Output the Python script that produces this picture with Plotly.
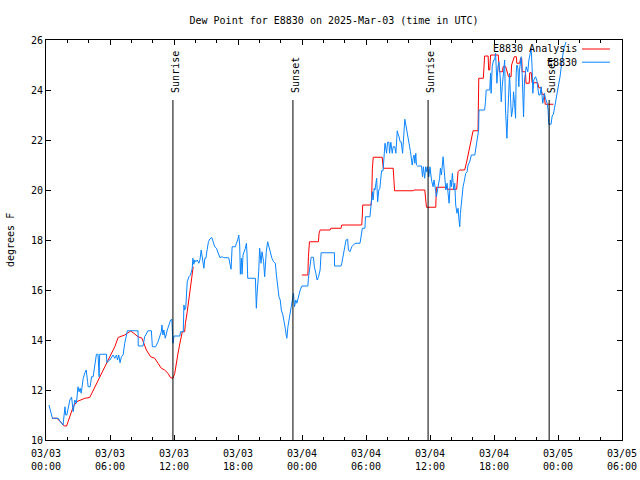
import pandas as pd
import plotly.graph_objects as go

BASE = pd.Timestamp("2025-03-03 00:00")

# Analysis (red): hours since 03/03 00:00 UTC, dew point (F); None = gap
analysis_hours = [0.59, 1.0, 1.3, 1.71, 1.93, 2.24, 2.55, 2.87, 3.34, 3.64, 4.1, 4.58, 5.05, 5.51,
                  5.98, 6.45, 6.76, 7.38, 7.94, 8.32, 8.63, 9.0, 9.41, 9.81, 10.19, 10.5, 10.81,
                  11.12, 11.43, 11.68, 11.9, 12.07, 12.2, 12.35, 12.52, 12.71, 12.78, 13.0, 13.07,
                  13.24, 13.4, 13.55, 13.71, 13.8, 18.0,
                  23.99, 24.55, 24.6, 24.7, 25.54, 25.6, 25.7, 26.64, 26.7, 27.66, 27.73, 29.6,
                  29.66, 29.69, 30.47, 30.53, 30.6, 30.68, 31.52, 31.62, 32.55, 32.63, 32.68,
                  34.42, 34.5, 35.51, 35.6, 35.67, 36.54, 36.6, 37.54, 37.6, 38.5, 38.63, 38.78,
                  39.25, 39.41, 39.57, 39.72, 39.88, 40.04, 40.5, 40.56, 40.57, 41.0, 41.12,
                  41.45, 41.5, 41.6, 41.68, 42.4, 42.5, 42.8, 42.85, 43.1, 43.2, 43.36, 43.6,
                  43.65, 43.9, 44.1, 44.14, 44.4, 44.5, 44.6, 44.64, 44.95, 45.0, 45.3, 45.35,
                  45.5, 45.57, 46.1, 46.2, 46.42, 46.5, 46.7, 46.8, 47.57]
analysis_vals = [10.87, 10.87, 10.76, 10.56, 10.56, 10.93, 11.33, 11.53, 11.6, 11.67, 11.7, 12.13,
                 12.53, 12.93, 13.33, 13.73, 14.1, 14.2, 14.36, 14.24, 14.13, 14.07, 13.6, 13.33,
                 13.27, 13.07, 12.87, 12.8, 12.67, 12.49, 12.47, 12.67, 13.07, 13.4, 13.8, 14.2,
                 14.33, 14.33, 14.67, 15.13, 15.67, 16.13, 16.53, 16.93, None,
                 16.6, 16.6, 17.33, 17.93, 17.93, 18.27, 18.4, 18.4, 18.47, 18.47, 18.6, 18.6,
                 19.0, 19.4, 19.4, 19.67, 20.87, 21.31, 21.31, 20.87, 20.87, 20.4, 19.97, 19.97,
                 20.0, 20.0, 19.67, 19.31, 19.31, 20.11, 20.11, 20.03, 20.03, 20.73, 20.8, 20.8,
                 21.07, 21.4, 21.73, 22.07, 22.37, 22.37, 23.47, 24.47, 24.47, 25.36, 25.36,
                 24.8, 24.8, 25.4, 25.4, 24.73, 24.73, 24.93, 24.93, 24.73, 24.53, 24.53, 25.0,
                 25.33, 25.33, 25.07, 25.07, 25.27, 25.27, 24.73, 24.73, 24.27, 24.27, 24.69,
                 24.69, 24.29, 24.29, 24.09, 24.09, 23.83, 23.83, 23.43, 23.43]

# Observations (blue)
obs_hours = [0.28, 0.6, 1.15, 1.3, 1.6, 1.78, 1.85, 1.95, 2.24, 2.4, 2.55, 2.7, 2.85, 3.0, 3.1,
             3.2, 3.3, 3.49, 3.64, 3.77, 3.9, 3.95, 4.14, 4.27, 4.42, 4.58, 4.73, 4.88, 4.98,
             5.03, 5.67, 5.7, 5.98, 6.29, 6.45, 6.61, 6.7, 6.82, 6.94, 7.07, 7.23, 7.38, 7.63,
             8.63, 8.65, 9.1, 9.25, 9.56, 9.88, 9.97, 10.28, 10.5, 10.65, 10.81, 10.87, 10.96,
             11.05, 11.18, 11.37, 11.5, 11.68, 11.8, 11.9, 12.0, 12.55, 12.6, 12.87, 12.93,
             13.0, 13.1, 13.18, 13.24, 13.4, 13.55, 13.71, 13.77, 13.86, 13.95, 14.04, 14.18,
             14.33, 14.43, 14.55, 14.65, 14.8, 14.89, 14.99, 15.1, 15.23, 15.36, 15.54, 15.67,
             15.82, 15.98, 16.14, 16.3, 16.51, 16.67, 17.13, 17.29, 17.35, 17.45, 17.76, 17.85,
             17.97, 18.07, 18.16, 18.22, 18.32, 18.38, 18.47, 18.69, 18.79, 18.85, 18.91,
             19.63, 19.65, 19.72, 19.78, 19.85, 19.94, 20.03, 20.16, 20.25, 20.4, 20.5, 20.56,
             20.65, 20.78, 20.9, 21.03, 21.18, 21.34, 21.5, 21.6, 21.71, 21.84, 21.96, 22.06,
             22.21, 22.34, 22.43, 22.52, 22.58, 22.68, 22.74, 22.86, 23.0, 23.1, 23.2, 23.3,
             23.42, 23.52, 23.67, 23.83, 23.99, 24.55, 24.6, 24.77, 24.86, 25.07, 25.16, 25.3,
             25.42, 25.55, 25.7, 25.79, 27.04, 27.05, 27.66, 27.73, 27.88, 27.97, 28.13, 28.28,
             28.35, 28.5, 28.66, 28.82, 28.97, 29.44, 29.53, 29.66, 29.9, 29.95, 30.37, 30.47,
             30.6, 30.66, 30.77, 30.84, 31.0, 31.09, 31.2, 31.3, 31.4, 31.46, 31.6, 31.71,
             31.78, 31.93, 32.02, 32.15, 32.21, 32.33, 32.46, 32.55, 32.7, 32.8, 32.86, 32.93,
             33.0, 33.1, 33.2, 33.3, 33.43, 33.5, 33.58, 33.64, 33.74, 33.83, 33.96, 34.05,
             34.17, 34.27, 34.33, 34.42, 34.51, 34.58, 34.67, 34.73, 34.83, 35.2, 35.3, 35.38,
             35.5, 35.6, 35.69, 35.76, 35.89, 36.0, 36.14, 36.29, 36.38, 36.54, 36.6, 36.76,
             36.9, 36.98, 37.07, 37.23, 37.33, 37.38, 37.48, 37.6, 37.69, 37.79, 37.91, 38.0,
             38.1, 38.22, 38.32, 38.41, 38.53, 38.63, 38.72, 38.79, 38.85, 38.94, 39.04, 39.1,
             39.2, 39.35, 39.48, 39.57, 39.72, 39.88, 40.2, 40.35, 40.5, 40.56, 40.59, 41.12,
             41.2, 41.27, 41.6, 41.68, 41.73, 41.83, 41.96, 42.06, 42.15, 42.21, 42.27, 42.37,
             42.46, 42.58, 42.68, 42.77, 42.9, 43.0, 43.08, 43.21, 43.3, 43.4, 43.46, 43.55,
             43.64, 43.77, 43.83, 43.93, 44.02, 44.08, 44.14, 44.24, 44.33, 44.39, 44.55, 44.64,
             44.77, 44.86, 45.02, 45.17, 45.27, 45.4, 45.48, 45.57, 45.64, 45.73, 45.89, 46.01,
             46.1, 46.2, 46.32, 46.42, 46.57, 46.73, 46.82, 46.98, 47.07, 47.13, 47.35, 47.45,
             47.57, 47.76, 47.98, 48.2, 48.35, 48.53, 48.75]
obs_vals = [11.4, 10.87, 10.87, 10.76, 10.6, 11.33, 11.0, 11.0, 11.6, 11.72, 11.13, 11.6, 11.47,
            12.13, 11.93, 12.07, 11.87, 12.47, 12.68, 12.8, 12.33, 12.13, 12.13, 12.53, 12.53,
            13.0, 13.43, 13.43, 12.53, 13.43, 13.43, 13.1, 13.2, 13.4, 13.27, 13.4, 13.2, 13.4,
            13.09, 13.33, 13.4, 13.87, 14.37, 14.37, 13.76, 13.76, 14.13, 14.37, 14.37, 13.73,
            13.73, 13.93, 14.13, 14.33, 14.6, 14.2, 14.4, 14.07, 14.4, 14.6, 14.8, 14.83, 13.87,
            14.16, 14.16, 14.33, 14.33, 15.4, 15.2, 15.27, 15.87, 16.33, 16.53, 16.6, 16.87,
            17.27, 17.03, 17.2, 17.13, 17.2, 17.07, 17.2, 17.6, 17.27, 16.87, 17.27, 17.27, 17.6,
            17.93, 18.04, 18.1, 17.93, 17.73, 17.67, 17.47, 17.3, 17.33, 17.29, 17.29, 17.03,
            16.83, 17.73, 17.73, 17.87, 18.0, 18.2, 17.8, 16.63, 17.27, 16.63, 17.4, 17.67, 17.87,
            17.4, 16.47, 16.47, 15.73, 15.27, 15.8, 16.2, 16.73, 17.67, 17.07, 17.53, 17.13,
            16.53, 17.07, 17.53, 17.93, 17.73, 17.53, 17.27, 17.13, 17.07, 16.6, 16.2, 15.73,
            15.6, 15.2, 15.0, 14.73, 14.47, 14.2, 14.07, 14.53, 14.67, 15.0, 15.27, 15.53, 15.87,
            15.33, 15.6, 15.47, 15.8, 16.0, 16.16, 16.16, 16.47, 16.93, 17.31, 17.31, 16.93,
            16.67, 16.4, 16.53, 16.8, 17.49, 17.49, 16.96, 16.96, 17.07, 17.44, 17.6, 18.0,
            18.03, 17.6, 17.53, 17.73, 17.8, 17.87, 17.87, 18.13, 18.47, 18.47, 18.93, 18.93,
            19.27, 19.93, 19.6, 20.07, 20.0, 20.47, 19.53, 20.0, 20.07, 20.4, 20.77, 20.77,
            21.47, 21.87, 21.47, 21.91, 21.91, 21.47, 21.91, 21.47, 21.73, 21.73, 21.47, 21.87,
            22.37, 22.24, 22.13, 21.93, 21.93, 21.47, 22.0, 22.47, 22.83, 22.6, 22.4, 22.13,
            21.87, 21.53, 21.2, 21.0, 21.27, 21.4, 21.07, 21.47, 21.0, 20.96, 20.96, 20.53,
            20.93, 20.47, 20.93, 20.73, 20.93, 20.53, 20.93, 20.4, 20.13, 20.4, 19.93, 19.73,
            20.13, 20.47, 20.87, 20.6, 21.33, 20.8, 20.4, 20.0, 20.27, 19.8, 19.47, 20.4, 20.13,
            20.67, 20.0, 20.27, 19.4, 19.07, 19.27, 18.8, 18.53, 19.07, 19.6, 20.0, 20.13, 20.33,
            20.67, 20.73, 21.0, 21.13, 21.4, 21.4, 21.76, 22.13, 22.4, 23.2, 23.2, 23.53, 24.0,
            24.0, 24.67, 23.87, 24.93, 25.2, 25.2, 25.47, 24.67, 24.27, 24.93, 25.13, 24.53,
            23.53, 24.13, 24.87, 25.2, 23.2, 22.07, 23.07, 24.13, 24.67, 23.67, 22.93, 23.33,
            23.93, 23.47, 22.87, 24.67, 25.0, 24.87, 24.13, 24.8, 25.33, 24.67, 22.93, 24.4,
            24.93, 24.73, 25.2, 25.47, 25.67, 24.93, 23.87, 24.4, 24.53, 24.4, 24.13, 23.8, 23.8,
            24.13, 23.47, 23.87, 23.67, 23.47, 23.2, 22.63, 22.63, 22.96, 23.03, 23.5, 23.89,
            24.56, 25.09, 25.63, 25.92]

# Sunrise / sunset markers
event_hours = [11.9, 23.15, 35.82, 47.17]
event_labels = ["Sunrise", "Sunset", "Sunrise", "Sunset"]
event_top = 23.6

tick_hours = [0, 6, 12, 18, 24, 30, 36, 42, 48, 54]

FONT = "DejaVu Sans Mono"


def to_time(hours):
    return [None if h is None else BASE + pd.Timedelta(hours=h) for h in hours]


a_t = to_time(analysis_hours)
o_t = to_time(obs_hours)

fig = go.Figure()
fig.add_trace(go.Scatter(x=a_t, y=analysis_vals, mode="lines", connectgaps=False,
                         line=dict(color="#ff0000", width=1), name="E8830 Analysis"))
fig.add_trace(go.Scatter(x=o_t, y=obs_vals, mode="lines",
                         line=dict(color="#0a84ff", width=1), name="E8830"))

for h, lab in zip(event_hours, event_labels):
    t = BASE + pd.Timedelta(hours=h)
    fig.add_trace(go.Scatter(x=[t, t], y=[10, event_top], mode="lines",
                             line=dict(color="black", width=1), showlegend=False,
                             hoverinfo="skip"))
    fig.add_annotation(x=t, y=event_top, text=lab, textangle=-90, showarrow=False,
                       xanchor="center", yanchor="bottom", yshift=5, xshift=2,
                       font=dict(family=FONT, size=10, color="black"))

tickvals = [BASE + pd.Timedelta(hours=h) for h in tick_hours]
ticktext = [t.strftime("%m/%d") + "<br>" + t.strftime("%H:%M") for t in tickvals]

fig.update_layout(
    width=640, height=480,
    margin=dict(l=46, r=18, t=40, b=40, autoexpand=False),
    plot_bgcolor="white", paper_bgcolor="white",
    showlegend=False,
    font=dict(family=FONT, size=10, color="black"),
    title=dict(text="Dew Point for E8830 on 2025-Mar-03 (time in UTC)",
               x=0.5, xref="paper", xanchor="center",
               y=1 - 20 / 480, yref="container", yanchor="middle",
               font=dict(family=FONT, size=10, color="black")),
    xaxis=dict(type="date", automargin=False,
               range=[BASE, BASE + pd.Timedelta(hours=54)],
               tickmode="array", tickvals=tickvals, ticktext=ticktext,
               ticks="inside", ticklen=5, tickcolor="black", tickwidth=1,
               ticklabelstandoff=4,
               showline=True, linecolor="black", linewidth=1, mirror="allticks",
               showgrid=False, zeroline=False,
               minor=dict(tickmode="linear", tick0=BASE, dtick=2 * 3600 * 1000,
                          ticks="inside", ticklen=3, tickcolor="black", showgrid=False),
               tickfont=dict(family=FONT, size=10, color="black")),
    yaxis=dict(range=[10, 26], dtick=2, tick0=10, automargin=False,
               ticks="inside", ticklen=5, tickcolor="black", tickwidth=1,
               showline=True, linecolor="black", linewidth=1, mirror="allticks",
               showgrid=False, zeroline=False,
               tickfont=dict(family=FONT, size=10, color="black")),
)

# y-axis title
fig.add_annotation(xref="paper", yref="paper", x=0, y=0.5, xshift=-36, text="degrees F",
                   textangle=-90, showarrow=False, xanchor="center", yanchor="middle",
                   font=dict(family=FONT, size=10, color="black"))

# gnuplot-style key: text then line sample
key = [("E8830 Analysis", "#ff0000", 0.9775), ("E8830", "#0a84ff", 0.9445)]
for name, col, yk in key:
    fig.add_annotation(xref="paper", yref="paper", x=0.9245, y=yk, text=name,
                       showarrow=False, xanchor="right", yanchor="middle",
                       font=dict(family=FONT, size=10, color="black"))
    fig.add_shape(type="line", xref="paper", yref="paper", x0=0.9305, x1=0.979,
                  y0=yk, y1=yk, line=dict(color=col, width=1))

fig.write_html("out.html", config={"responsive": False, "displayModeBar": False},
               post_script="document.body.style.margin='0';document.body.style.overflow='hidden';")
